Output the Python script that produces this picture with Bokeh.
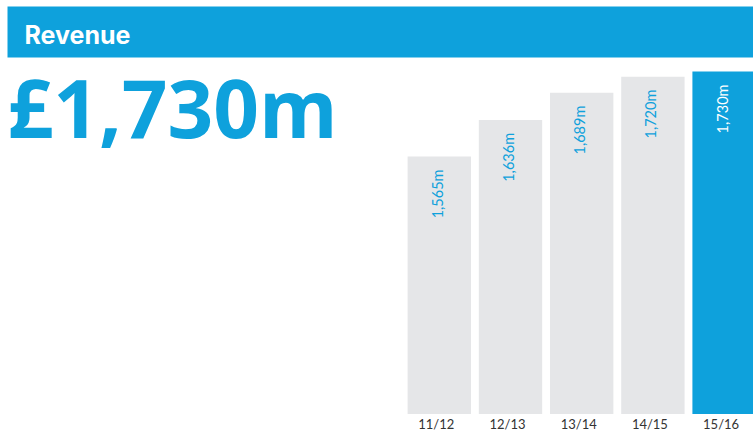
import math
from bokeh.plotting import figure
from bokeh.models import ColumnDataSource, LabelSet, Label, BoxAnnotation, Range1d
from bokeh.core.properties import value
from bokeh.embed import file_html
from bokeh.resources import INLINE

# ---- data ----
years = ["11/12", "12/13", "13/14", "14/15", "15/16"]
revenue = [1565, 1636, 1689, 1720, 1730]
value_labels = ["1,565m", "1,636m", "1,689m", "1,720m", "1,730m"]
headline = "£1,730m"
title_text = "Revenue"

BLUE = "#0ea1dc"
GREY = "#e5e6e8"

idx = list(range(len(years)))
fill = [GREY] * (len(years) - 1) + [BLUE]
label_col = [BLUE] * (len(years) - 1) + ["#ffffff"]
base = 1065

src = ColumnDataSource(dict(x=idx, top=revenue, fill=fill, lab=value_labels,
                            labcol=label_col, year=years,
                            base=[base] * len(years)))

p = figure(width=753, height=433, output_backend="svg", toolbar_location=None,
           x_range=Range1d(-6.163, 4.413), y_range=Range1d(1027.1, 1867.9),
           min_border=0, x_axis_location=None, y_axis_location=None)
p.outline_line_color = None
p.grid.visible = False
p.background_fill_color = "white"
p.border_fill_color = "white"

p.vbar(x="x", top="top", bottom=base, width=0.89, fill_color="fill",
       line_color=None, source=src)

p.add_layout(LabelSet(x="x", y="top", text="lab", source=src, angle=math.pi / 2,
                      text_align="right", text_baseline="middle", y_offset=-13,
                      x_offset=-2,
                      text_color="labcol", text_font=value("Lato"),
                      text_font_size="14.5px"))

p.add_layout(LabelSet(x="x", y="base", text="year", source=src,
                      text_align="center", text_baseline="top", y_offset=-2,
                      x_offset=-3,
                      text_color="#333333", text_font=value("Lato"),
                      text_font_size="13px"))

p.add_layout(BoxAnnotation(left=7, right=760, top=427, bottom=376,
                           left_units="screen", right_units="screen",
                           top_units="screen", bottom_units="screen",
                           fill_color=BLUE, fill_alpha=1, line_color=None))

p.add_layout(Label(x=24, y=399, x_units="screen", y_units="screen", text=title_text,
                   text_color="white", text_font="Inter", text_font_style="bold",
                   text_font_size="25px", text_baseline="alphabetic"))

p.add_layout(Label(x=7, y=327, x_units="screen", y_units="screen", text=headline,
                   text_color=BLUE, text_font="Open Sans", text_font_style="bold",
                   text_font_size="80px", text_baseline="alphabetic"))

open("out.html", "w").write(file_html(p, INLINE))
